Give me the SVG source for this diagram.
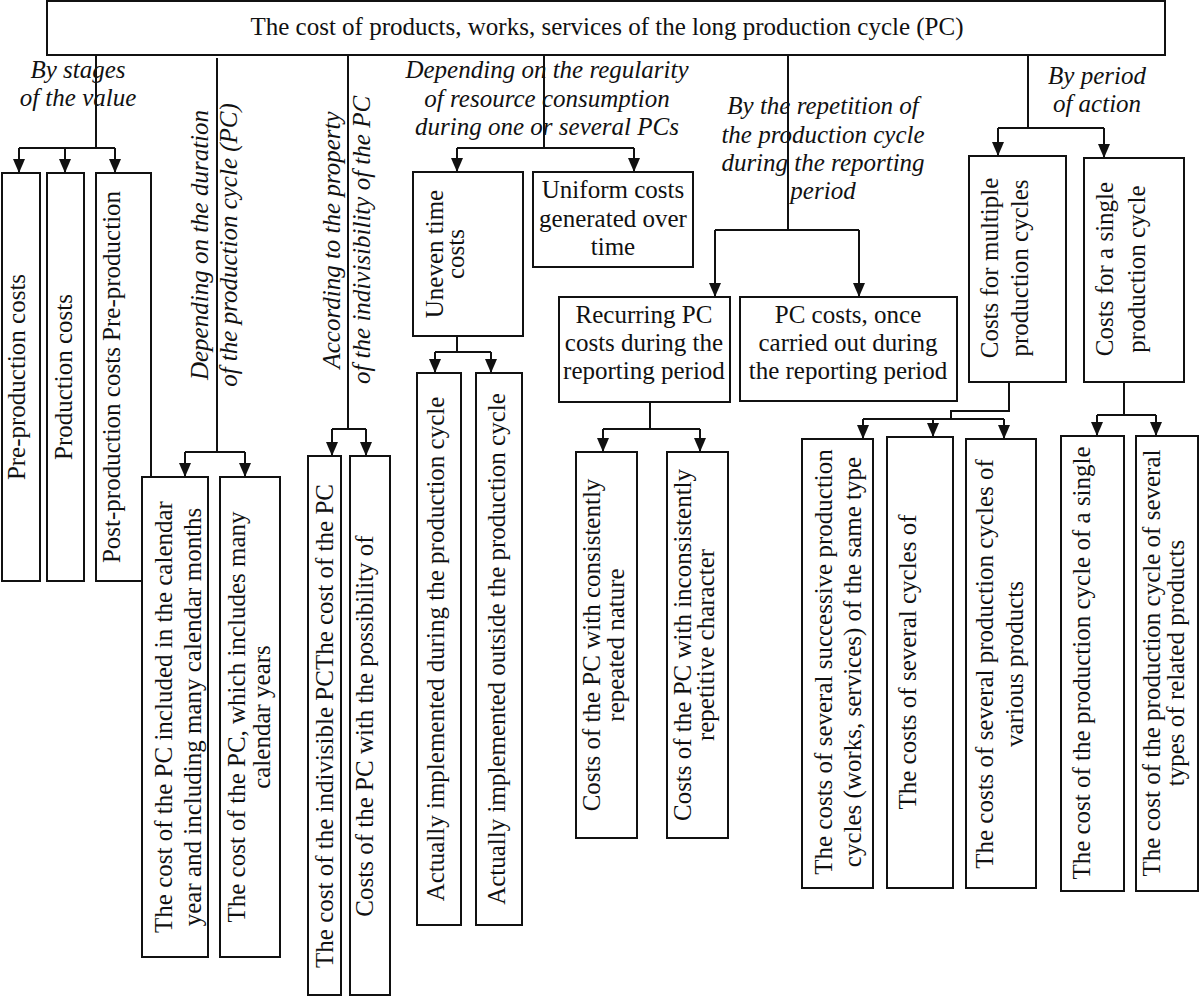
<svg xmlns="http://www.w3.org/2000/svg" width="1200" height="997" viewBox="0 0 1200 997" font-family="'Liberation Serif', 'Times New Roman', 'DejaVu Serif', serif" font-size="25">
<defs>
<style>
rect{fill:#fff;stroke:#111;stroke-width:2}
text{font-family:'Liberation Serif','Times New Roman','DejaVu Serif',serif;font-size:25px;fill:#111}
.lab{font-style:italic}
.c{text-anchor:middle}
.ln{fill:none;stroke:#111;stroke-width:2}
.ar{fill:none;stroke:#111;stroke-width:2;marker-end:url(#ah)}
</style>
<marker id="ah" viewBox="0 0 14 12" markerWidth="14" markerHeight="12" refX="14" refY="6" orient="auto" markerUnits="userSpaceOnUse">
<path d="M0,0 L14,6 L0,12 z" fill="#111"/>
</marker>
</defs>
<rect width="1200" height="997" style="fill:#fff;stroke:none"/>

<g id="connectors">
<path class="ln" d="M96,55 V148 M19,148 H115"/>
<path class="ar" d="M19,148 V173"/><path class="ar" d="M65,148 V173"/><path class="ar" d="M115,148 V173"/>
<path class="ln" d="M217,58 V452 M185,452 H245"/>
<path class="ar" d="M185,452 V477"/><path class="ar" d="M245,452 V477"/>
<path class="ln" d="M348,55 V429 M332,429 H366"/>
<path class="ar" d="M332,429 V456"/><path class="ar" d="M366,429 V456"/>
<path class="ln" d="M544,55 V148 M457,148 H634"/>
<path class="ar" d="M457,148 V172"/><path class="ar" d="M634,148 V172"/>
<path class="ln" d="M457,336 V352 M435,352 H491"/>
<path class="ar" d="M435,352 V373"/><path class="ar" d="M491,352 V373"/>
<path class="ln" d="M788,55 V230 M715,230 H859"/>
<path class="ar" d="M715,230 V297"/><path class="ar" d="M859,230 V297"/>
<path class="ln" d="M650,402 V429 M603,429 H700"/>
<path class="ar" d="M603,429 V452"/><path class="ar" d="M700,429 V452"/>
<path class="ln" d="M1028,55 V128 M998,128 H1104"/>
<path class="ar" d="M998,128 V156"/><path class="ar" d="M1104,128 V158"/>
<path class="ln" d="M1009,382 V411 H951 V419 M863,419 H1004"/>
<path class="ar" d="M863,419 V439"/><path class="ar" d="M933,419 V437"/><path class="ar" d="M1004,419 V439"/>
<path class="ln" d="M1124,382 V415 M1097,415 H1156"/>
<path class="ar" d="M1097,415 V436"/><path class="ar" d="M1156,415 V436"/>
</g>

<g id="labels" font-style="italic">
<text class="lab c" x="78" y="78">By stages</text>
<text class="lab c" x="78" y="106">of the value</text>
<text class="lab c" transform="translate(208,245) rotate(-90)"><tspan x="0" y="0">Depending on the duration</tspan><tspan x="0" y="29">of the production cycle (PC)</tspan></text>
<text class="lab c" transform="translate(340,240) rotate(-90)"><tspan x="0" y="0">According to the property</tspan><tspan x="0" y="30">of the indivisibility of the PC</tspan></text>
<text class="lab c" x="547" y="78">Depending on the regularity</text>
<text class="lab c" x="547" y="107">of resource consumption</text>
<text class="lab c" x="547" y="135">during one or several PCs</text>
<text class="lab c" x="823" y="114">By the repetition of</text>
<text class="lab c" x="823" y="143">the production cycle</text>
<text class="lab c" x="823" y="171">during the reporting</text>
<text class="lab c" x="823" y="199">period</text>
<text class="lab c" x="1097" y="84">By period</text>
<text class="lab c" x="1097" y="112">of action</text>
</g>

<g id="n_root"><rect x="47" y="1" width="1118" height="54"/><text class="c" x="607" y="35">The cost of products, works, services of the long production cycle (PC)</text></g>

<g id="n_pre"><rect x="2" y="173" width="38" height="408"/><text class="c" transform="translate(25,377) rotate(-90)">Pre-production costs</text></g>
<g id="n_prod"><rect x="47" y="173" width="37" height="408"/><text class="c" transform="translate(72,377) rotate(-90)">Production costs</text></g>
<g id="n_post"><rect x="96" y="173" width="55" height="408"/><text class="c" transform="translate(120,377) rotate(-90)">Post-production costs Pre-production</text></g>

<g id="n_cal_months"><rect x="142" y="477" width="66" height="480"/><text class="c" transform="translate(172,717) rotate(-90)"><tspan x="0" y="0">The cost of the PC included in the calendar</tspan><tspan x="0" y="29">year and including many calendar months</tspan></text></g>
<g id="n_cal_years"><rect x="220" y="477" width="60" height="480"/><text class="c" transform="translate(245,717) rotate(-90)"><tspan x="0" y="0">The cost of the PC, which includes many</tspan><tspan x="0" y="25">calendar years</tspan></text></g>

<g id="n_indivisible"><rect x="308" y="456" width="33" height="539"/><text class="c" transform="translate(333,726) rotate(-90)">The cost of the indivisible PCThe cost of the PC</text></g>
<g id="n_divisible"><rect x="350" y="456" width="40" height="539"/><text class="c" transform="translate(373,726) rotate(-90)">Costs of the PC with the possibility of</text></g>

<g id="n_uneven"><rect x="413" y="172" width="110" height="164"/><text class="c" transform="translate(443,254) rotate(-90)"><tspan x="0" y="0">Uneven time</tspan><tspan x="0" y="21">costs</tspan></text></g>
<g id="n_uniform"><rect x="533" y="172" width="160" height="95"/><text class="c" x="613" y="198">Uniform costs<tspan x="613" y="227">generated over</tspan><tspan x="613" y="255">time</tspan></text></g>

<g id="n_during"><rect x="417" y="373" width="44" height="552"/><text class="c" transform="translate(444,649) rotate(-90)">Actually implemented during the production cycle</text></g>
<g id="n_outside"><rect x="476" y="373" width="46" height="552"/><text class="c" transform="translate(505,649) rotate(-90)">Actually implemented outside the production cycle</text></g>

<g id="n_recurring"><rect x="559" y="297" width="171" height="105"/><text class="c" x="644" y="323">Recurring PC<tspan x="644" y="351">costs during the</tspan><tspan x="644" y="379">reporting period</tspan></text></g>
<g id="n_once"><rect x="740" y="297" width="217" height="104"/><text class="c" x="848" y="323">PC costs, once<tspan x="848" y="351">carried out during</tspan><tspan x="848" y="379">the reporting period</tspan></text></g>

<g id="n_consistent"><rect x="576" y="452" width="61" height="386"/><text class="c" transform="translate(600,645) rotate(-90)"><tspan x="0" y="0">Costs of the PC with consistently</tspan><tspan x="0" y="24">repeated nature</tspan></text></g>
<g id="n_inconsistent"><rect x="667" y="452" width="61" height="386"/><text class="c" transform="translate(691,645) rotate(-90)"><tspan x="0" y="0">Costs of the PC with inconsistently</tspan><tspan x="0" y="23">repetitive character</tspan></text></g>

<g id="n_multiple"><rect x="969" y="156" width="97" height="226"/><text class="c" transform="translate(998,268) rotate(-90)"><tspan x="0" y="0">Costs for multiple</tspan><tspan x="0" y="30">production cycles</tspan></text></g>
<g id="n_single"><rect x="1084" y="158" width="100" height="224"/><text class="c" transform="translate(1113,269) rotate(-90)"><tspan x="0" y="0">Costs for a single</tspan><tspan x="0" y="32">production cycle</tspan></text></g>

<g id="n_successive"><rect x="802" y="439" width="71" height="449"/><text class="c" transform="translate(832,662) rotate(-90)"><tspan x="0" y="0">The costs of several successive production</tspan><tspan x="0" y="29">cycles (works, services) of the same type</tspan></text></g>
<g id="n_several"><rect x="887" y="437" width="66" height="451"/><text class="c" transform="translate(916,662) rotate(-90)">The costs of several cycles of</text></g>
<g id="n_various"><rect x="966" y="439" width="70" height="449"/><text class="c" transform="translate(993,664) rotate(-90)"><tspan x="0" y="0">The costs of several production cycles of</tspan><tspan x="0" y="30">various products</tspan></text></g>
<g id="n_single_cost"><rect x="1061" y="436" width="63" height="455"/><text class="c" transform="translate(1090,663) rotate(-90)">The cost of the production cycle of a single</text></g>
<g id="n_related"><rect x="1136" y="436" width="62" height="455"/><text class="c" transform="translate(1160,663) rotate(-90)"><tspan x="0" y="0">The cost of the production cycle of several</tspan><tspan x="0" y="24">types of related products</tspan></text></g>
</svg>
